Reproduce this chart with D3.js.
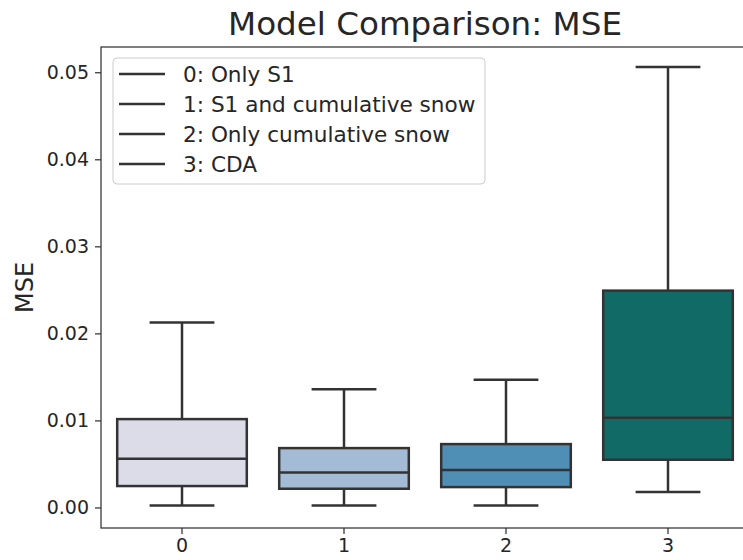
<!DOCTYPE html>
<html>
<head>
<meta charset="utf-8">
<script src="https://cdn.jsdelivr.net/npm/d3@7"></script>
<style>
  body { margin: 0; background: #fff; }
  text { font-family: "DejaVu Sans", sans-serif; fill: #262626; }
</style>
</head>
<body>
<div id="chart"></div>
<script>
////////
// Data: one box per model
let categories = ["0", "1", "2", "3"];
let whiskerLow = [0.00023, 0.00023, 0.00023, 0.00177];
let q1 = [0.00246, 0.00215, 0.00234, 0.00548];
let median = [0.00559, 0.00402, 0.00429, 0.0103];
let q3 = [0.01015, 0.00682, 0.00728, 0.02491];
let whiskerHigh = [0.02124, 0.01359, 0.01466, 0.0506];
let boxColors = ["#dcdbe8", "#a3bbd4", "#4f8fb6", "#126a67"];
let legendLabels = ["0: Only S1", "1: S1 and cumulative snow", "2: Only cumulative snow", "3: CDA"];
let yTicks = [0, 0.01, 0.02, 0.03, 0.04, 0.05];

let boxes = categories.map((c, i) => ({
  cat: c, lo: whiskerLow[i], q1: q1[i], med: median[i], q3: q3[i], hi: whiskerHigh[i], color: boxColors[i]
}));

////////
// Canvas
let svg_width = 743;
let svg_height = 560;
let plotLeft = 101, plotRight = 749, plotTop = 47, plotBottom = 528;
let lineColor = "#333333";

let svg = d3.select("#chart")
  .append("svg")
  .attr("width", svg_width)
  .attr("height", svg_height);

////////
// Scales
let xScale = d3.scaleBand()
  .domain(categories)
  .range([plotLeft, plotRight])
  .paddingInner(0.2)
  .paddingOuter(0.1);

let yScale = d3.scaleLinear()
  .domain([-0.00236, 0.0529])
  .range([plotBottom, plotTop]);

let bw = xScale.bandwidth();
let cx = d => xScale(d.cat) + bw / 2;

////////
// Boxes
let g = svg.append("g");

let box = g.selectAll("g.box")
  .data(boxes)
  .enter()
  .append("g")
  .attr("class", "box");

// whiskers
box.append("line")
  .attr("x1", cx).attr("x2", cx)
  .attr("y1", d => yScale(d.q3)).attr("y2", d => yScale(d.hi))
  .attr("stroke", lineColor).attr("stroke-width", 2.5);
box.append("line")
  .attr("x1", cx).attr("x2", cx)
  .attr("y1", d => yScale(d.q1)).attr("y2", d => yScale(d.lo))
  .attr("stroke", lineColor).attr("stroke-width", 2.5);

// caps
["hi", "lo"].forEach(k => {
  box.append("line")
    .attr("x1", d => cx(d) - bw / 4).attr("x2", d => cx(d) + bw / 4)
    .attr("y1", d => yScale(d[k])).attr("y2", d => yScale(d[k]))
    .attr("stroke", lineColor).attr("stroke-width", 2.5);
});

box.append("rect")
  .attr("x", d => xScale(d.cat))
  .attr("width", bw)
  .attr("y", d => yScale(d.q3))
  .attr("height", d => yScale(d.q1) - yScale(d.q3))
  .attr("fill", d => d.color)
  .attr("stroke", lineColor)
  .attr("stroke-width", 2.5);

box.append("line")
  .attr("x1", d => xScale(d.cat)).attr("x2", d => xScale(d.cat) + bw)
  .attr("y1", d => yScale(d.med)).attr("y2", d => yScale(d.med))
  .attr("stroke", lineColor).attr("stroke-width", 2.5);

////////
// Axes
let yAxis = d3.axisLeft(yScale)
  .tickValues(yTicks)
  .tickFormat(d3.format(".2f"))
  .tickSize(6)
  .tickPadding(6);

let yG = svg.append("g")
  .attr("transform", `translate(${plotLeft},0)`)
  .call(yAxis);

let xAxis = d3.axisBottom(xScale)
  .tickSize(6)
  .tickPadding(5);

let xG = svg.append("g")
  .attr("transform", `translate(0,${plotBottom})`)
  .call(xAxis);

[yG, xG].forEach(a => {
  a.select(".domain").remove();
  a.selectAll(".tick line").attr("stroke", lineColor).attr("stroke-width", 1.25);
  a.selectAll(".tick text").style("font-size", "19px").attr("fill", "#262626");
});

// spines
svg.append("rect")
  .attr("x", plotLeft).attr("y", plotTop)
  .attr("width", plotRight - plotLeft).attr("height", plotBottom - plotTop)
  .attr("fill", "none")
  .attr("stroke", lineColor)
  .attr("stroke-width", 1.25);

////////
// Title and axis label
svg.append("text")
  .attr("x", (plotLeft + plotRight) / 2)
  .attr("y", 35)
  .attr("text-anchor", "middle")
  .style("font-size", "32.6px")
  .text("Model Comparison: MSE");

svg.append("text")
  .attr("transform", `translate(33,${(plotTop + plotBottom) / 2}) rotate(-90)`)
  .attr("text-anchor", "middle")
  .style("font-size", "24px")
  .text("MSE");

////////
// Legend
let legend = svg.append("g").attr("transform", "translate(113,58)");

legend.append("rect")
  .attr("width", 372).attr("height", 126)
  .attr("rx", 4)
  .attr("fill", "white").attr("fill-opacity", 0.8)
  .attr("stroke", "#cccccc").attr("stroke-width", 1);

let item = legend.selectAll("g.item")
  .data(legendLabels)
  .enter()
  .append("g")
  .attr("class", "item")
  .attr("transform", (d, i) => `translate(0,${16 + i * 30})`);

item.append("line")
  .attr("x1", 6).attr("x2", 52)
  .attr("stroke", lineColor).attr("stroke-width", 2.5);

item.append("text")
  .attr("x", 70)
  .attr("dy", "0.36em")
  .style("font-size", "21.6px")
  .text(d => d);
</script>
</body>
</html>
